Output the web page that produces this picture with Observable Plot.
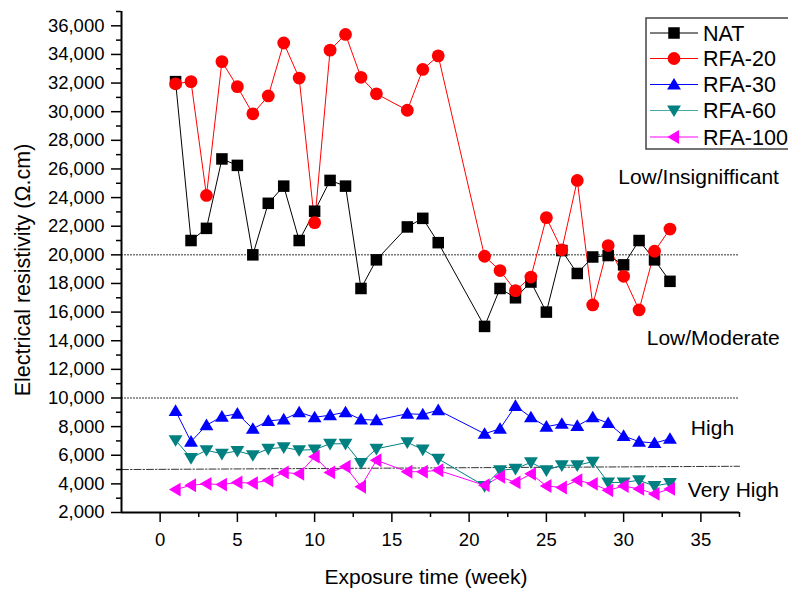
<!DOCTYPE html>
<html>
<head>
<meta charset="utf-8">
<script src="https://cdn.jsdelivr.net/npm/d3@7"></script>
<script src="https://cdn.jsdelivr.net/npm/@observablehq/plot@0.6"></script>
<style>
  html, body { margin: 0; padding: 0; background: #fff; }
  #chart { position: relative; width: 788px; height: 590px; }
</style>
</head>
<body>
<div id="chart"></div>
<script>
// ---- data ----
const weeks = [1,2,3,4,5,6,7,8,9,10,11,12,13,14,16,17,18,21,22,23,24,25,26,27,28,29,30,31,32,33];
const nat    = [32100,21000,21850,26700,26250,20000,23600,24800,21000,23050,25200,24800,17650,19650,21950,22550,20850,15000,17650,17000,18100,16000,20300,18700,19850,19950,19300,21000,19650,18150];
const rfa20  = [31950,32100,24150,33500,31750,29850,31100,34800,32350,22250,34300,35400,32400,31250,30100,32950,33900,19900,18900,17500,18450,22600,20350,25200,16500,20650,18500,16150,20250,21800];
const rfa30  = [9100,6950,8100,8700,8900,7850,8400,8500,9000,8650,8800,9000,8500,8450,8900,8850,9150,7500,7850,9450,8650,8000,8200,8050,8650,8250,7350,6950,6850,7150];
const rfa60  = [7050,5800,6350,6100,6300,6000,6450,6550,6350,6400,6800,6800,5450,6450,6900,6400,5750,3850,4950,5050,5500,4950,5300,5300,5550,4100,4100,4250,3850,4050];
const rfa100 = [3600,3900,4000,3950,4100,4050,4250,4800,4700,5900,4800,5200,3800,5650,4850,4850,4950,3900,4500,4100,4700,3850,3750,4250,4000,3550,3850,3650,3300,3650];

const seriesNames  = ["NAT","RFA-20","RFA-30","RFA-60","RFA-100"];
const seriesValues = [nat, rfa20, rfa30, rfa60, rfa100];
const seriesColors = ["#000000","#ff0000","#0000ff","#008080","#ff00ff"];

const xTicks = [0,5,10,15,20,25,30,35];
const xMinor = [2.5,7.5,12.5,17.5,22.5,27.5,32.5,37.5];
const yTicks = d3.range(2000, 36001, 2000);
const yMinor = d3.range(3000, 37001, 2000);
const xDomain = [-2.5, 37.5];
const yDomain = [2000, 37000];

const thresholds = [20000, 10000];          // dotted class limits
const dashDotLine = [{x: -2.5, y: 5000}, {x: 37.5, y: 5230}];

const zoneLabels = ["Low/Insignifficant", "Low/Moderate", "High", "Very High"];
const zoneX = [34.85, 35.8, 35.75, 37.1];
const zoneY = [25400, 14150, 7900, 3550];

// ---- symbols ----
const sym = {
  square: "square",
  circle: "circle",
  up: { draw(ctx, size) { const r = Math.sqrt(size / Math.PI);
    ctx.moveTo(0, -1.05 * r); ctx.lineTo(1.1 * r, 0.8 * r); ctx.lineTo(-1.1 * r, 0.8 * r); ctx.closePath(); } },
  down: { draw(ctx, size) { const r = Math.sqrt(size / Math.PI);
    ctx.moveTo(0, 1.05 * r); ctx.lineTo(1.1 * r, -0.8 * r); ctx.lineTo(-1.1 * r, -0.8 * r); ctx.closePath(); } },
  left: { draw(ctx, size) { const r = Math.sqrt(size / Math.PI);
    ctx.moveTo(-1.05 * r, 0); ctx.lineTo(0.8 * r, -1.1 * r); ctx.lineTo(0.8 * r, 1.1 * r); ctx.closePath(); } }
};
const seriesSymbols = [sym.square, sym.circle, sym.up, sym.down, sym.left];
const seriesR = [6.5, 6.4, 6.3, 6.3, 6.3];

const rows = [];
seriesNames.forEach((name, i) => {
  weeks.forEach((w, j) => rows.push({series: name, week: w, value: seriesValues[i][j]}));
});

const marks = [];
// class limit lines
marks.push(Plot.ruleY(thresholds, {stroke: "#333", strokeWidth: 1, strokeDasharray: "2,1"}));
marks.push(Plot.line(dashDotLine, {x: "x", y: "y", stroke: "#333", strokeWidth: 1, strokeDasharray: "7,2,1.5,2"}));
// series
seriesNames.forEach((name, i) => {
  const data = rows.filter(d => d.series === name);
  marks.push(Plot.line(data, {x: "week", y: "value", stroke: seriesColors[i], strokeWidth: 1}));
});
seriesNames.forEach((name, i) => {
  const data = rows.filter(d => d.series === name);
  marks.push(Plot.dot(data, {x: "week", y: "value", symbol: () => seriesSymbols[i], fill: seriesColors[i], stroke: "none", r: seriesR[i]}));
});
// axes
marks.push(Plot.ruleX([xDomain[0]], {stroke: "#000", strokeWidth: 2}));
marks.push(Plot.ruleY([yDomain[0]], {stroke: "#000", strokeWidth: 2}));
marks.push(Plot.axisY(yTicks, {tickSize: 10, tickPadding: 7, tickFormat: d3.format(","), fontSize: 18.5, strokeWidth: 1.5, color: "#000"}));
marks.push(Plot.axisY(yMinor, {tickSize: 5, tickFormat: () => "", strokeWidth: 1.5, color: "#000"}));
marks.push(Plot.axisX(xTicks, {tickSize: 10, tickPadding: 10, fontSize: 18.5, strokeWidth: 1.5, color: "#000", label: null}));
marks.push(Plot.axisX(xMinor, {tickSize: 5, tickFormat: () => "", strokeWidth: 1.5, color: "#000", label: null}));
// zone labels
marks.push(Plot.text(zoneLabels.map((t, i) => ({t, x: zoneX[i], y: zoneY[i]})), {
  x: "x", y: "y", text: "t", fontSize: 21, fill: "#000", textAnchor: "middle", clip: false
}));

const svg = Plot.plot({
  width: 788, height: 590,
  marginLeft: 121, marginRight: 49, marginTop: 11, marginBottom: 78,
  x: {domain: xDomain, axis: null},
  y: {domain: yDomain, axis: null},
  style: {fontFamily: "'Liberation Sans', Arial, sans-serif", background: "#fff", color: "#000", overflow: "visible"},
  marks
});

const s = d3.select(svg);
// axis titles
s.append("text").attr("x", 426).attr("y", 584).attr("text-anchor", "middle")
  .attr("font-size", 21).attr("fill", "#000").text("Exposure time (week)");
s.append("text").attr("transform", "translate(30,270) rotate(-90)").attr("text-anchor", "middle")
  .attr("font-size", 21.5).attr("fill", "#000").text("Electrical resistivity (Ω.cm)");

// legend
const lg = s.append("g");
lg.append("rect").attr("x", 646).attr("y", 18).attr("width", 160).attr("height", 131)
  .attr("fill", "#fff").attr("stroke", "#444").attr("stroke-width", 1.5);
const legY = [33, 58.5, 84.5, 110.5, 137];
seriesNames.forEach((name, i) => {
  const y = legY[i];
  lg.append("line").attr("x1", 650).attr("x2", 698).attr("y1", y).attr("y2", y)
    .attr("stroke", i === 3 ? "#4aa8a8" : seriesColors[i]).attr("stroke-width", 1.2);
  const st = typeof seriesSymbols[i] === "string"
    ? (seriesSymbols[i] === "square" ? d3.symbolSquare : d3.symbolCircle)
    : seriesSymbols[i];
  lg.append("path").attr("transform", `translate(674,${y})`)
    .attr("d", d3.symbol(st, Math.PI * seriesR[i] * seriesR[i])())
    .attr("fill", seriesColors[i]);
  lg.append("text").attr("x", 703).attr("y", y).attr("dy", "0.36em").attr("text-anchor", "start")
    .attr("font-size", 21.5).attr("fill", "#000").text(name);
});

document.getElementById("chart").appendChild(svg);
</script>
</body>
</html>
